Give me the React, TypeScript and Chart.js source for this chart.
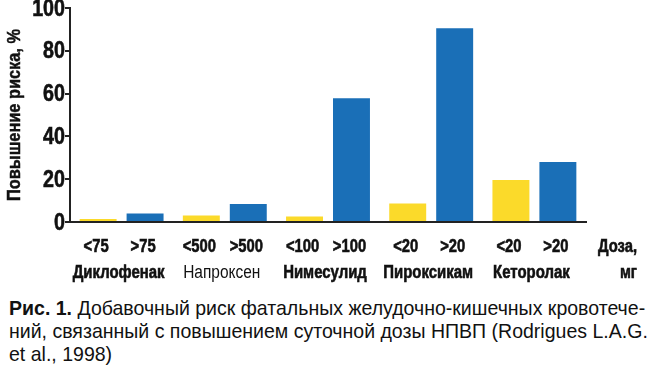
import React, { useEffect, useRef } from "react";
import { Chart, registerables } from "chart.js";

Chart.register(...registerables);

const drugs = ["Диклофенак", "Напроксен", "Нимесулид", "Пироксикам", "Кеторолак"];
const drugBold = [true, false, true, true, true];
const lowDoseLabels = ["<75", "<500", "<100", "<20", "<20"];
const highDoseLabels = [">75", ">500", ">100", ">20", ">20"];
const lowDoseRisk = [1.4, 3, 2.6, 8.6, 19.6];
const highDoseRisk = [4, 8.4, 57.8, 90.5, 28];
const yTicks = [0, 20, 40, 60, 80, 100];
const yTitle = "Повышение риска, %";
const unitLine1 = "Доза,";
const unitLine2 = "мг";
const captionLines = [
  ["Рис. 1.", " Добавочный риск фатальных желудочно-кишечных кровотече-"],
  ["", "ний, связанный с повышением суточной дозы НПВП (Rodrigues L.A.G."],
  ["", "et al., 1998)"],
];

const FONT = "'Liberation Sans', Arial, sans-serif";
const YELLOW = "#FBDA2A";
const BLUE = "#1A6FB7";
const INK = "#111";

function condensed(
  ctx: CanvasRenderingContext2D,
  text: string,
  x: number,
  y: number,
  align: CanvasTextAlign,
  sx: number,
  heavy: boolean
) {
  ctx.save();
  ctx.translate(x, y);
  ctx.scale(sx, 1);
  ctx.textAlign = align;
  ctx.fillText(text, 0, 0);
  if (heavy) {
    ctx.lineWidth = 0.6;
    ctx.strokeStyle = INK;
    ctx.strokeText(text, 0, 0);
  }
  ctx.restore();
}

const textPlugin = {
  id: "condensedText",
  afterDraw(chart: any) {
    const ctx: CanvasRenderingContext2D = chart.ctx;
    const area = chart.chartArea;
    ctx.save();
    ctx.fillStyle = INK;
    ctx.textBaseline = "middle";

    // y tick labels
    const ys = chart.scales.y;
    ctx.font = `bold 24px ${FONT}`;
    yTicks.forEach((v) => {
      condensed(ctx, String(v), area.left - 5, ys.getPixelForValue(v) + 1, "right", 0.82, true);
    });

    // y title
    ctx.font = `bold 19px ${FONT}`;
    ctx.save();
    ctx.translate(15, (area.top + area.bottom) / 2 + 0);
    ctx.rotate(-Math.PI / 2);
    ctx.scale(0.86, 1);
    ctx.textAlign = "center";
    ctx.fillText(yTitle, 0, 0);
    ctx.lineWidth = 0.5;
    ctx.strokeStyle = INK;
    ctx.strokeText(yTitle, 0, 0);
    ctx.restore();

    // dose labels under each bar
    ctx.font = `bold 18px ${FONT}`;
    [lowDoseLabels, highDoseLabels].forEach((labels, di) => {
      const meta = chart.getDatasetMeta(di);
      meta.data.forEach((bar: any, i: number) => {
        condensed(ctx, labels[i], bar.x - 2, 247, "center", 0.82, true);
      });
    });

    // drug names
    const xs = chart.scales.x;
    drugs.forEach((name, i) => {
      ctx.font = `${drugBold[i] ? "bold" : "normal"} 18px ${FONT}`;
      condensed(ctx, name, xs.getPixelForTick(i) - 3, 273, "center", drugBold[i] ? 0.83 : 0.86, drugBold[i]);
    });

    // units
    ctx.font = `bold 18px ${FONT}`;
    const right = area.right + 51;
    condensed(ctx, unitLine1, right, 247, "right", 0.82, true);
    condensed(ctx, unitLine2, right, 273, "right", 0.82, true);
    ctx.restore();
  },
};

export default function App() {
  const ref = useRef<HTMLCanvasElement | null>(null);
  const capRef = useRef<HTMLDivElement | null>(null);

  useEffect(() => {
    document.body.style.margin = "0";
    const canvas = ref.current!;
    const chart = new Chart(canvas, {
      type: "bar",
      data: {
        labels: drugs,
        datasets: [
          {
            label: "low",
            data: lowDoseRisk,
            backgroundColor: YELLOW,
            categoryPercentage: 0.91,
            barPercentage: 0.787,
          },
          {
            label: "high",
            data: highDoseRisk,
            backgroundColor: BLUE,
            categoryPercentage: 0.91,
            barPercentage: 0.787,
          },
        ],
      },
      options: {
        animation: false,
        responsive: false,
        maintainAspectRatio: false,
        layout: { padding: { top: 8, right: 71, left: 0, bottom: 0 } },
        plugins: {
          legend: { display: false },
          tooltip: { enabled: false },
        },
        scales: {
          x: {
            grid: { display: false, drawTicks: false },
            border: { display: true, color: "#222", width: 2 },
            ticks: { display: false },
            afterFit: (s: any) => {
              s.height = 68;
            },
          },
          y: {
            min: 0,
            max: 100,
            afterBuildTicks: (s: any) => {
              s.ticks = yTicks.map((v) => ({ value: v }));
            },
            grid: { drawOnChartArea: false, drawTicks: true, tickLength: 5, color: "#222", lineWidth: 2 },
            border: { display: true, color: "#222", width: 2 },
            ticks: { display: false },
            afterFit: (s: any) => {
              s.width = 70;
              s.paddingTop = 0;
              s.paddingBottom = 0;
            },
          },
        },
      },
      plugins: [textPlugin],
    });

    // condense caption lines horizontally to the reference width
    const cap = capRef.current;
    if (cap) {
      const first = cap.children[0] as HTMLElement;
      const w = first.scrollWidth;
      const k = w > 0 ? 636 / w : 0.85;
      Array.from(cap.children).forEach((el) => {
        (el as HTMLElement).style.transform = `scaleX(${k})`;
      });
    }
    return () => chart.destroy();
  }, []);

  return (
    <div style={{ position: "absolute", left: 0, top: 0, width: 657, height: 383, background: "#fff" }}>
      <canvas ref={ref} width={657} height={290} style={{ display: "block", width: 657, height: 290 }} />
      <div
        ref={capRef}
        style={{
          position: "absolute",
          left: 9,
          top: 296,
          fontFamily: FONT,
          fontSize: 21,
          lineHeight: "23px",
          color: INK,
        }}
      >
        {captionLines.map((ln, i) => (
          <div
            key={i}
            style={{ whiteSpace: "nowrap", transformOrigin: "0 0", width: "max-content" }}
          >
            {ln[0] ? <b>{ln[0]}</b> : null}
            {ln[1]}
          </div>
        ))}
      </div>
    </div>
  );
}
